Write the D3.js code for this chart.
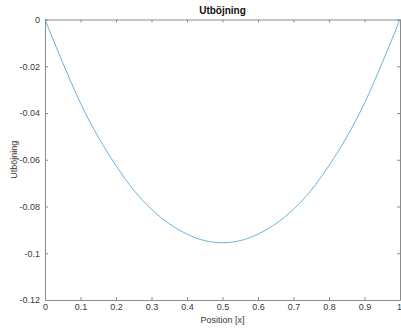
<!DOCTYPE html>
<html>
<head>
<meta charset="utf-8">
<script src="https://cdn.jsdelivr.net/npm/d3@7"></script>
<style>
  body { margin: 0; background: #fff; }
  text { font-family: "Liberation Sans", Arial, Helvetica, sans-serif; }
</style>
</head>
<body>
<svg id="chart" width="401" height="328"></svg>
<script>
// positions along the beam and deflection
var positions = [0, 0.05, 0.1, 0.15, 0.2, 0.25, 0.3, 0.35, 0.4, 0.45, 0.5,
                 0.55, 0.6, 0.65, 0.7, 0.75, 0.8, 0.85, 0.9, 0.95, 1];
var deflection = [0, -0.0185, -0.0358, -0.0503, -0.0625, -0.0730, -0.0812, -0.0874, -0.0918, -0.0946, -0.0955,
                  -0.0946, -0.0918, -0.0874, -0.0812, -0.0730, -0.0625, -0.0503, -0.0358, -0.0185, 0];
var xTicks = [0, 0.1, 0.2, 0.3, 0.4, 0.5, 0.6, 0.7, 0.8, 0.9, 1];
var yTicks = [0, -0.02, -0.04, -0.06, -0.08, -0.1, -0.12];
var titleText = 'Utböjning';
var xLabel = 'Position [x]';
var yLabel = 'Utböjning';

var svg = d3.select('#chart'),
  margin = {left: 45, top: 19.5, right: 1, bottom: 28},
  W = 401, H = 328,
  x = d3.scaleLinear().domain([0, 1]).range([margin.left, W - margin.right]),
  y = d3.scaleLinear().domain([-0.12, 0]).range([H - margin.bottom, margin.top]);

var axisColor = '#8c8c8c', textColor = '#3a3a3a';

function fmt(d) {
  return d === 0 ? '0' : String(d);
}

// bottom & left carry labels, top & right close the box, ticks point inwards
var gx = svg.append('g').attr('transform', 'translate(0,' + y(-0.12) + ')')
  .call(d3.axisBottom(x).tickValues(xTicks).tickFormat(fmt).tickSizeInner(-3).tickSizeOuter(0).tickPadding(4));
var gy = svg.append('g').attr('transform', 'translate(' + x(0) + ',0)')
  .call(d3.axisLeft(y).tickValues(yTicks).tickFormat(fmt).tickSizeInner(-3).tickSizeOuter(0).tickPadding(5));
var gt = svg.append('g').attr('transform', 'translate(0,' + y(0) + ')')
  .call(d3.axisTop(x).tickValues(xTicks).tickFormat('').tickSizeInner(-3).tickSizeOuter(0));
var gr = svg.append('g').attr('transform', 'translate(' + x(1) + ',0)')
  .call(d3.axisRight(y).tickValues(yTicks).tickFormat('').tickSizeInner(-3).tickSizeOuter(0));

[gx, gy, gt, gr].forEach(function(g) {
  g.select('.domain').attr('stroke', axisColor).attr('stroke-width', 1);
  g.selectAll('.tick line').attr('stroke', axisColor);
  g.selectAll('.tick text').attr('fill', textColor).style('font-size', '9px');
});
// last label sits on the right edge, keep it inside the window
gx.selectAll('.tick text').filter(function(d) { return d === 1; }).attr('text-anchor', 'end').attr('x', 1.5);

var line = d3.line()
  .x(function(d, i) { return x(positions[i]); })
  .y(function(d) { return y(d); })
  .curve(d3.curveMonotoneX);

svg.append('path')
  .datum(deflection)
  .attr('d', line)
  .attr('fill', 'none')
  .attr('stroke', '#5aa7da')
  .attr('stroke-width', 0.9);

svg.append('text')
  .attr('x', (x(0) + x(1)) / 2).attr('y', 14)
  .attr('text-anchor', 'middle')
  .style('font-size', '10px').style('font-weight', 'bold')
  .attr('fill', '#111')
  .text(titleText);

svg.append('text')
  .attr('x', (x(0) + x(1)) / 2).attr('y', 323)
  .attr('text-anchor', 'middle')
  .style('font-size', '9px')
  .attr('fill', textColor)
  .text(xLabel);

svg.append('text')
  .attr('transform', 'translate(17,' + (y(-0.06)) + ') rotate(-90)')
  .attr('text-anchor', 'middle')
  .style('font-size', '9px')
  .attr('fill', textColor)
  .text(yLabel);
</script>
</body>
</html>
